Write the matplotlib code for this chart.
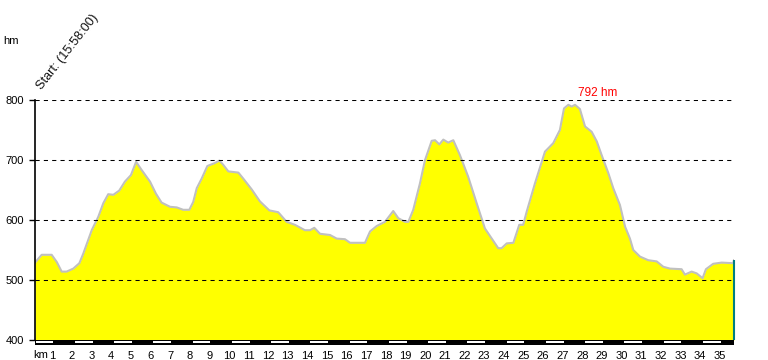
import matplotlib
matplotlib.use('agg')
from matplotlib import pyplot as plt
from matplotlib.patches import Rectangle
import numpy as np

plt.rcParams["font.family"] = ["Liberation Sans", "DejaVu Sans"]
plt.rcParams["font.size"] = 8

# distance (km) and elevation (hm)
km = [0.00, 0.34, 0.85, 1.11, 1.36, 1.61, 1.95, 2.26, 2.46, 2.89,
      3.22, 3.48, 3.73, 3.99, 4.29, 4.58, 4.89, 5.15, 5.44, 5.86,
      6.16, 6.45, 6.88, 7.22, 7.55, 7.86, 8.06, 8.24, 8.49, 8.78,
      9.17, 9.39, 9.59, 9.85, 10.36, 10.61, 11.04, 11.46, 11.94, 12.39,
      12.82, 13.24, 13.75, 14.01, 14.23, 14.52, 15.03, 15.37, 15.79, 16.05,
      16.81, 17.07, 17.41, 17.83, 18.25, 18.51, 18.85, 19.02, 19.27, 19.61,
      19.87, 20.21, 20.38, 20.60, 20.80, 21.05, 21.31, 21.65, 22.07, 22.50,
      22.92, 23.27, 23.60, 23.77, 24.03, 24.37, 24.67, 24.87, 25.05, 25.47,
      25.98, 26.40, 26.74, 26.95, 27.17, 27.34, 27.51, 27.76, 28.02, 28.36,
      28.62, 28.87, 29.21, 29.46, 29.80, 30.06, 30.31, 30.48, 30.82, 31.24,
      31.67, 32.01, 32.35, 32.94, 33.11, 33.45, 33.71, 34.01, 34.18, 34.55,
      34.98, 35.57, 35.61]
elev = [529, 542, 542, 530, 514, 514, 519, 528, 544, 583,
        605, 628, 643, 642, 649, 664, 675, 697, 683, 664,
        644, 629, 622, 621, 617, 617, 630, 653, 669, 690,
        695, 699, 692, 681, 679, 669, 651, 631, 616, 613,
        597, 592, 583, 583, 587, 577, 575, 569, 568, 562,
        562, 581, 590, 597, 615, 603, 597, 597, 617, 661,
        700, 732, 733, 726, 734, 729, 733, 708, 672, 628,
        586, 569, 553, 553, 561, 562, 592, 592, 614, 661,
        714, 728, 750, 786, 792, 789, 792, 785, 756, 747,
        731, 708, 678, 653, 625, 589, 569, 550, 539, 533,
        531, 522, 519, 518, 509, 514, 511, 503, 518, 527,
        529, 528, 533]
km_labels = list(range(1, 36))
y_ticks = [400, 500, 600, 700, 800]
start_text = 'Start: (15:58:00)'

km = np.array(km)
elev = np.array(elev)

fig = plt.figure(figsize=(7.68, 3.6), dpi=100)
ax = fig.add_axes([35/768, 20/360, 699/768, 240/360])

ax.fill_between(km, elev, 400, color='#ffff00', lw=0, zorder=1)
ax.plot(km, elev, color='#c0c0c0', lw=1.5, zorder=2)
ax.hlines(y_ticks[1:], km[0], km[-1], colors='black', lw=0.75,
          linestyles=(0, (4, 4)), zorder=3)
ax.vlines(km[-1], 400, elev[-1], colors='#008080', lw=1.5, zorder=4, clip_on=False)

ax.set_xlim(km[0], km[-1])
ax.set_ylim(400, 800)
for s in ['top', 'right', 'bottom']:
    ax.spines[s].set_visible(False)
ax.spines['left'].set_linewidth(1.2)
ax.set_yticks(y_ticks)
ax.tick_params(axis='y', length=4, width=1, pad=4, labelsize=8)

# km ruler below the profile
tr = ax.get_xaxis_transform()
ax.add_patch(Rectangle((km[0], -5/240), km[-1]-km[0], 5/240, transform=tr,
                       facecolor='black', lw=0, clip_on=False))
for k in range(0, int(km[-1]), 2):
    ax.add_patch(Rectangle((k + 0.03, -3.3/240), 0.9, 2.3/240, transform=tr,
                           facecolor='white', lw=0, clip_on=False))
ax.set_xticks([k - 0.12 for k in km_labels])
ax.set_xticklabels([str(k) for k in km_labels])
ax.tick_params(axis='x', length=0, pad=8, labelsize=8)
ax.text(-0.1, -14.5/240, 'km', transform=tr, ha='left', va='center', fontsize=8)

# peak label
i = int(np.argmax(elev))
ax.text(km[i] + 0.5, 801, f'{elev[i]} hm', color='#ff0000', ha='left',
        va='bottom', fontsize=8.5)

fig.text(3/768, 1 - 41/360, 'hm', ha='left', va='center', fontsize=8)
ax.text(0.009, 1 + 10/240, start_text, transform=ax.transAxes, rotation=52,
        rotation_mode='anchor', ha='left', va='baseline', fontsize=9.2,
        color='#111111')

fig.savefig('out.png', dpi=100)
